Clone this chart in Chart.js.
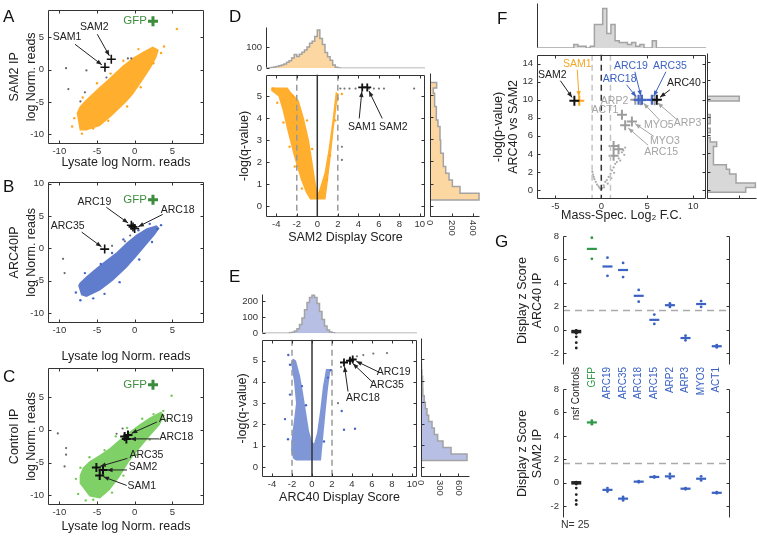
<!DOCTYPE html>
<html>
<head>
<meta charset="utf-8">
<title>Display scores</title>
<script src="https://cdn.jsdelivr.net/npm/chart.js@4.4.1/dist/chart.umd.min.js"></script>
<style>
  body { margin: 0; background: #fff; }
  #fig { position: relative; width: 757px; height: 536px; overflow: hidden; font-family: 'Liberation Sans', Arial, sans-serif; color: #111; }
  #fig canvas { position: absolute; }
  .panel { position: absolute; font-size: 17px; line-height: 1; }
  .foot { position: absolute; font-size: 10.5px; line-height: 1; color: #333; }
</style>
</head>
<body>
<div id="fig">
  <canvas id="cA"></canvas>
  <canvas id="cB"></canvas>
  <canvas id="cC"></canvas>
  <canvas id="dTop"></canvas>
  <canvas id="dSide"></canvas>
  <canvas id="cD"></canvas>
  <canvas id="eTop"></canvas>
  <canvas id="eSide"></canvas>
  <canvas id="cE"></canvas>
  <canvas id="fTop"></canvas>
  <canvas id="fSide"></canvas>
  <canvas id="cF"></canvas>
  <canvas id="gTop"></canvas>
  <canvas id="gBot"></canvas>
  <div class="panel" style="left:3px;top:8px">A</div>
  <div class="panel" style="left:3px;top:178px">B</div>
  <div class="panel" style="left:3px;top:368px">C</div>
  <div class="panel" style="left:229px;top:8px">D</div>
  <div class="panel" style="left:229px;top:268px">E</div>
  <div class="panel" style="left:497px;top:10px">F</div>
  <div class="panel" style="left:495px;top:233px">G</div>
  <div class="foot" style="left:561px;top:519px">N= 25</div>
</div>
<script>
// ---------- panel A: SAM2 IP vs lysate ----------
const aCloud = [[-7.7,-6.7],[-7.3,-9.4],[-6.4,-9.4],[-4.6,-8.7],[-2.9,-7.0],[-1.1,-5.0],[-0.2,-3.8],[1.1,-1.6],[2.2,0.4],[2.9,1.9],[3.2,3.1],[2.4,3.6],[1.1,2.8],[-0.2,1.9],[-1.6,0.6],[-2.7,-0.6],[-3.8,-1.8],[-4.6,-2.6],[-5.7,-3.8],[-6.6,-4.8],[-7.3,-5.7]];
const aSpeck = [[-8.3,-8.8],[-8.0,-7.5],[-7.0,-9.9],[-5.5,-9.1],[-6.9,-4.3],[-5.0,-2.1],[-3.2,-0.6],[-1.5,1.4],[0.5,3.2],[3.5,2.6],[2.5,1.0],[0.8,-2.7],[-1.0,-5.7],[-3.5,-7.9],[3.9,3.6],[5.6,6.3]];
const aGray = [[-9.1,0.25],[-8.8,-3.0],[-6.4,-0.1],[-7.2,-4.9],[-6.6,-3.5],[-3.75,-1.2],[-0.9,1.76],[-0.45,1.76]];
const aHits = [[-3.94,0.39],[-3.1,1.62]];          // SAM1, SAM2
const aGfp = [[2.43,7.5]];

// ---------- panel B: ARC40 IP vs lysate ----------
const bCloud = [[-7.5,-5.7],[-7.1,-7.2],[-6.4,-7.5],[-4.6,-6.5],[-2.9,-5.0],[-1.1,-3.0],[0.2,-1.3],[1.6,0.6],[2.7,2.1],[3.3,3.1],[2.9,3.6],[1.6,3.1],[0.2,2.1],[-1.1,0.9],[-2.4,-0.6],[-3.8,-1.8],[-5.1,-3.0],[-6.4,-4.3],[-7.3,-5.3]];
const bSpeck = [[-7.8,-6.8],[-7.2,-8.0],[-5.5,-7.7],[-6.6,-3.8],[-4.5,-2.4],[-3.0,-0.7],[-1.5,1.4],[0.5,2.8],[2.0,3.8],[3.5,3.6],[2.3,1.0],[0.6,-1.7],[-2.0,-5.2],[-4.0,-7.0],[3.0,3.0]];
const bGray = [[-9.5,-1.6],[-9.3,-3.8],[-1.3,1.1],[-3.0,0.4],[-0.6,2.0]];
const bHits = [[-0.44,3.57],[-0.22,3.33],[0,3.09],[-3.98,-0.1]];   // ARC19, -, ARC18, ARC35
const bGfp = [[2.43,7.5]];

// ---------- panel C: control IP vs lysate ----------
const cCloud = [[-7.3,-8.2],[-6.0,-10.2],[-4.6,-10.5],[-3.3,-9.2],[-2.0,-7.2],[-0.7,-4.8],[0.7,-2.8],[2.0,-1.0],[3.3,0.7],[4.0,2.2],[3.5,2.8],[2.0,1.9],[0.7,0.9],[-0.7,-0.3],[-2.0,-1.5],[-3.3,-2.8],[-4.6,-3.8],[-6.0,-4.8],[-6.9,-5.8],[-7.3,-7.0]];
const cSpeck = [[-7.8,-7.5],[-7.5,-9.8],[-6.5,-10.8],[-5.5,-10.7],[-3.0,-9.6],[-7.2,-5.8],[-6.0,-4.2],[-4.0,-3.1],[-2.5,-1.0],[-1.0,0.3],[1.0,1.7],[2.5,2.4],[3.8,2.9],[4.2,1.5],[2.0,-1.5],[0.2,-3.8],[-1.5,-7.0],[4.9,5.2]];
const cGray = [[-10.2,-0.55],[-9.1,-2.8],[-9.1,-3.8],[-9.3,-5.6],[-1.6,0.2],[-2.4,-0.6]];
const cHits = [[-1.33,-1.04],[-1.1,-1.39],[-0.89,-0.79],[-5.08,-5.75],[-4.2,-6.14],[-4.64,-6.98]];
const cGfp = [[2.43,6.88]];

// ---------- panel D: SAM2 volcano + marginals ----------
const dCloud = [[-0.7,0.3],[0.8,0.3],[1.0,1.0],[1.3,2.2],[1.6,3.5],[1.9,4.6],[2.1,5.1],[1.8,5.2],[1.5,4.0],[1.1,2.6],[0.7,1.5],[0.3,0.9],[0.1,0.6],[-0.1,0.9],[-0.4,1.8],[-0.8,3.0],[-1.3,4.0],[-1.8,4.8],[-2.6,5.2],[-2.9,5.4],[-4.5,5.4],[-4.5,5.25],[-3.8,5.0],[-3.4,4.4],[-2.9,3.4],[-2.3,2.3],[-1.6,1.2],[-1.1,0.6]];
const dSpeck = [[-4.3,5.35],[-3.9,4.7],[-3.3,3.8],[-2.7,2.7],[-2.2,1.8],[-1.5,0.8],[-0.5,2.6],[-1.0,3.9],[2.0,4.9],[1.75,3.9],[1.25,2.3],[0.95,1.2],[2.4,5.1],[-2.4,5.0]];
const dGray = [[2.25,5.35],[2.65,5.35],[3.14,5.35],[3.73,5.35],[5.03,5.35],[5.52,5.35],[6.01,5.35],[6.5,5.35],[9.44,5.35],[2.4,2.7],[2.4,2.1]];
const dHits = [[4.38,5.4],[4.87,5.4]];             // SAM1, SAM2
const dTopX = [-5.0,-4.75,-4.5,-4.25,-4.0,-3.75,-3.5,-3.25,-3.0,-2.75,-2.5,-2.25,-2.0,-1.75,-1.5,-1.25,-1.0,-0.75,-0.5,-0.25,0.0,0.25,0.5,0.75,1.0,1.25,1.5,1.75,2.0,2.25,10.5];
const dTopN = [0,2,4,6,9,12,15,20,28,36,48,65,56,66,76,86,100,118,128,150,180,140,112,75,55,38,16,5,2,0,0];
const dSideY = [0.27,0.27,0.57,0.87,1.17,1.47,1.77,2.07,2.37,2.67,2.97,3.27,3.57,3.87,4.17,4.47,4.77,5.07,5.3,5.55];
const dSideN = [0,456,279,208,177,146,124,124,99,99,93,93,74,59,59,43,43,31,62,0];

// ---------- panel E: ARC40 volcano + marginals ----------
const eCloud = [[-1.6,0.3],[0.9,0.3],[1.0,0.8],[1.2,1.8],[1.4,2.8],[1.6,3.7],[1.8,4.4],[1.9,4.6],[1.4,4.6],[1.1,3.8],[0.8,2.6],[0.5,1.6],[0.2,1.1],[0.0,1.2],[-0.3,1.7],[-0.6,2.6],[-0.9,3.5],[-1.2,4.3],[-1.6,5.0],[-1.9,5.1],[-2.1,4.9],[-1.8,4.0],[-1.6,3.0],[-1.8,2.2],[-2.0,1.5],[-2.1,0.8],[-1.9,0.4]];
const eSpeck = [[-2.37,5.26],[-2.7,2.25],[-2.2,4.8],[-2.4,1.3],[1.9,4.55],[2.97,2.63],[3.2,1.75],[4.3,1.8],[-1.0,3.8],[-0.6,2.9],[1.6,4.2],[-2.2,3.4],[1.2,1.2]];
const eGray = [[5.13,5.26],[6.13,5.33],[7.5,5.35],[2.9,4.7],[4.5,5.2],[2.6,3.0]];
const eHits = [[3.2,4.91],[3.8,4.99],[4.07,5.05]];  // ARC18, ARC35, ARC19
const eTopX = [-5.0,-2.5,-2.25,-2.0,-1.75,-1.5,-1.25,-1.0,-0.75,-0.5,-0.25,0.0,0.25,0.5,0.75,1.0,1.25,1.5,1.75,2.0,2.25,2.5,10.5];
const eTopN = [0,1,3,6,14,28,55,95,145,190,222,235,222,185,135,85,45,20,8,3,1,0,0];
const eSideY = [0.3,0.3,0.6,0.9,1.2,1.5,1.8,2.1,2.4,2.7,3.0,3.3,3.6,3.9,4.2,4.5,4.8,5.1,5.4];
const eSideN = [0,738,482,353,267,214,177,123,96,70,53,30,27,25,15,8,5,3,0];

// ---------- panel F: mass-spec volcano ----------
const fDots = [[-0.1,0.15],[0.0,0.05],[0.1,0.2],[-0.3,0.4],[-0.46,0.6],[-0.6,0.9],[-0.75,1.2],[-0.83,1.45],[-0.97,2.0],[-0.9,1.7],[0.25,0.5],[0.43,0.9],[0.6,1.1],[0.8,1.45],[1.0,1.8],[1.16,2.17],[1.35,2.5],[1.52,2.9],[1.7,3.1],[2.06,3.26],[1.9,3.5],[2.25,4.17],[2.4,4.4],[2.6,4.7],[2.5,3.9],[0.3,0.3],[-0.2,0.25],[0.7,0.7],[1.1,1.3],[1.4,1.9]];
const fGrayHits = [[3.7,10],[4.3,9.95],[5.8,9.95],[2.25,8.33],[3.33,7.6],[2.6,7.17],[1.34,4.89],[1.88,4.53],[1.34,3.8]];
const fBlueHits = [[4.06,10],[4.42,10],[5.51,10]];  // ARC18, ARC19, ARC35
const fSam2 = [[-2.93,9.9]];
const fSam1 = [[-2.4,9.9]];
const fArc40 = [[6.05,10]];
const fTopX = [-7,-3.0,-2.55,-2.1,-1.65,-1.2,-0.75,-0.3,0.15,0.6,1.05,1.5,1.95,2.4,2.85,3.3,3.75,4.2,4.65,5.55,6.0,11.4];
const fTopN = [0,2,1,1,0,1,13,13,22,8,13,4,3,3,2,3,1,2,0,4,0,0];
const fSideY = [-0.25,-0.25,0.25,0.75,1.25,1.75,2.25,2.75,3.25,3.75,4.25,4.75,5.25,5.75,6.25,6.75,7.25,7.75,8.25,9.75,10.25];
const fSideN = [0,12,15,9,9,7,6,2,2,2,2,3,1,0,1,0,1,1,0,10,0];

// ---------- panel G: display z scores ----------
const gCats = ['nsf Controls','GFP','ARC19','ARC35','ARC18','ARC15','ARP2','ARP3','MYO3','ACT1'];
const gTopMean = [-0.15,6.9,5.4,5.1,2.9,0.85,2.1,-0.7,2.2,-1.4];
const gTopReps = [[-0.05,-0.1,-0.2,-0.25,-0.3,-0.6,-1.1,-1.55],[7.85,6.05],[6.15,4.6],[5.7,4.5],[3.4,2.4],[1.3,0.5],[2.25,1.95],[-0.5,-0.9],[2.45,1.95],[-1.3,-1.5]];
const gBotMean = [0,5.15,-0.6,-1.35,0.1,0.5,0.55,-0.5,0.35,-0.85];
const gBotReps = [[0.05,-0.05,-0.1,-0.45,-1.0,-1.5,-1.85],[5.3,5.0],[-0.45,-0.75],[-1.2,-1.5],[0.15,0.05],[0.55,0.45],[0.75,0.4],[-0.45,-0.55],[0.55,0.2],[-0.8,-0.9]];
const gCut = 1.65;

// colours
const ORANGE = '#ffa51c', ORANGE_FILL = 'rgba(255,168,30,0.93)';
const BLUE = '#4466c4', BLUE_FILL = 'rgba(68,102,196,0.85)', BLUE_SOFT = 'rgba(68,102,196,0.68)';
const GREEN = '#74cb58', GREEN_FILL = 'rgba(118,204,92,0.93)';
const GFP = '#3b8c3b', GFP_TEXT = '#3f8f3f';
const BLUE_TXT = '#3d63c2', GRAY_TXT = '#a4a4a4', ORANGE_TXT = '#f5a623';
const gColors = ['#222', '#2f9a45', '#3a62c2', '#3a62c2', '#3a62c2', '#3a62c2', '#3a62c2', '#3a62c2', '#3a62c2', '#3a62c2'];

// annotations (text/arrow offsets in px from the marked point)
const aNotes = [
  {t:'SAM1', at:aHits[0], tx:-38, ty:-30, ax:-30, ay:-23},
  {t:'SAM2', at:aHits[1], tx:-17, ty:-32, ax:-14, ay:-25},
  {t:'GFP', at:aGfp[0], tx:-6, ty:0, align:'right', c:GFP_TEXT, size:11.5}
];
const bNotes = [
  {t:'ARC19', at:bHits[0], tx:-37, ty:-23, ax:-25, ay:-18},
  {t:'ARC18', at:bHits[2], tx:43, ty:-18, ax:28, ay:-14},
  {t:'ARC35', at:bHits[3], tx:-37, ty:-23, ax:-23, ay:-17},
  {t:'GFP', at:bGfp[0], tx:-6, ty:0, align:'right', c:GFP_TEXT, size:11.5}
];
const cNotes = [
  {t:'ARC19', at:cHits[2], tx:48, ty:-16, ax:29, ay:-13},
  {t:'ARC18', at:cHits[1], tx:50, ty:-2, ax:33, ay:0},
  {t:'ARC35', at:cHits[3], tx:50, ty:-12, ax:31, ay:-9},
  {t:'SAM2', at:cHits[4], tx:40, ty:-3, ax:24, ay:0},
  {t:'SAM1', at:cHits[5], tx:42, ty:11, ax:27, ay:10},
  {t:'GFP', at:cGfp[0], tx:-6, ty:0, align:'right', c:GFP_TEXT, size:11.5}
];
const dNotes = [
  {t:'SAM1', at:dHits[0], tx:0, ty:40, ax:-3, ay:31},
  {t:'SAM2', at:dHits[1], tx:26, ty:40, ax:15, ay:31}
];
const eNotes = [
  {t:'ARC19', at:eHits[2], tx:41, ty:13, ax:27, ay:13},
  {t:'ARC35', at:eHits[1], tx:37, ty:24, ax:22, ay:21},
  {t:'ARC18', at:eHits[0], tx:19, ty:36, ax:4, ay:29}
];
const fNotes = [
  {t:'SAM2', at:fSam2[0], tx:-22, ty:-26, ax:-14, ay:-20},
  {t:'SAM1', at:fSam1[0], tx:-2, ty:-37, ax:-2, ay:-31, c:ORANGE_TXT},
  {t:'ARC19', at:fBlueHits[1], tx:-11, ty:-34, ax:-7, ay:-28, c:BLUE_TXT},
  {t:'ARC35', at:fBlueHits[2], tx:18, ty:-34, ax:14, ay:-28, c:BLUE_TXT},
  {t:'ARC18', at:fBlueHits[0], tx:-19, ty:-21, ax:-12, ay:-15, c:BLUE_TXT},
  {t:'ARC40', at:fArc40[0], tx:27, ty:-17, ax:13, ay:-10},
  {t:'ARP2', at:fGrayHits[0], tx:-7, ty:1, align:'right', c:GRAY_TXT},
  {t:'ACT1', at:fGrayHits[3], tx:-17, ty:-5, c:GRAY_TXT},
  {t:'MYO5', at:fGrayHits[1], tx:18, ty:25, ax:19, ay:20, c:GRAY_TXT},
  {t:'ARP3', at:fGrayHits[2], tx:33, ty:23, ax:22, ay:19, c:GRAY_TXT},
  {t:'MYO3', at:fGrayHits[4], tx:33, ty:20, ax:22, ay:15, c:GRAY_TXT},
  {t:'ARC15', at:fGrayHits[5], tx:36, ty:27, ax:23, ay:20, c:GRAY_TXT}
];

const FONT = "'Liberation Sans', Arial, sans-serif";
Chart.defaults.animation = false;
Chart.defaults.font.family = FONT;
Chart.defaults.font.size = 9.5;
Chart.defaults.color = '#333';
Chart.defaults.events = [];
Chart.defaults.plugins.legend.display = false;
Chart.defaults.plugins.tooltip.enabled = false;

// box frame with inward ticks (matlab look)
const framePlugin = {
  id: 'frame',
  afterDraw(chart, args, o) {
    if (!o.sides) return;
    const {ctx, chartArea: a} = chart;
    const xs = chart.scales.x, ys = chart.scales.y, s = o.sides;
    const tl = o.tick === undefined ? 3 : o.tick;
    const L = Math.round(a.left) + 0.5, R = Math.round(a.right) - 0.5;
    const T = Math.round(a.top) + 0.5, B = Math.round(a.bottom) - 0.5;
    ctx.save();
    ctx.strokeStyle = o.color || '#333';
    ctx.lineWidth = 1;
    ctx.beginPath();
    if (s.includes('l')) { ctx.moveTo(L, T); ctx.lineTo(L, B); }
    if (s.includes('r')) { ctx.moveTo(R, T); ctx.lineTo(R, B); }
    if (s.includes('t')) { ctx.moveTo(L, T); ctx.lineTo(R, T); }
    if (s.includes('b')) { ctx.moveTo(L, B); ctx.lineTo(R, B); }
    if (tl) {
      xs.ticks.forEach(t => {
        const p = Math.round(xs.getPixelForValue(t.value)) + 0.5;
        if (s.includes('b')) { ctx.moveTo(p, B); ctx.lineTo(p, B - tl); }
        if (s.includes('t')) { ctx.moveTo(p, T); ctx.lineTo(p, T + tl); }
      });
      ys.ticks.forEach(t => {
        const p = Math.round(ys.getPixelForValue(t.value)) + 0.5;
        if (s.includes('l')) { ctx.moveTo(L, p); ctx.lineTo(L + tl, p); }
        if (s.includes('r')) { ctx.moveTo(R, p); ctx.lineTo(R - tl, p); }
      });
    }
    ctx.stroke();
    ctx.restore();
  }
};

// vertical / horizontal reference lines
const refPlugin = {
  id: 'refs',
  afterDatasetsDraw(chart, args, o) {
    const {ctx, chartArea: a} = chart;
    ctx.save();
    ctx.lineWidth = 1.5;
    (o.x || []).forEach(([v, c, dash]) => {
      const p = chart.scales.x.getPixelForValue(v);
      ctx.strokeStyle = c;
      ctx.setLineDash(dash ? [6, 4] : []);
      ctx.beginPath(); ctx.moveTo(p, a.top); ctx.lineTo(p, a.bottom); ctx.stroke();
    });
    (o.y || []).forEach(([v, c, dash]) => {
      const p = chart.scales.y.getPixelForValue(v);
      ctx.strokeStyle = c;
      ctx.setLineDash(dash ? [7, 5] : []);
      ctx.beginPath(); ctx.moveTo(a.left, p); ctx.lineTo(a.right, p); ctx.stroke();
    });
    ctx.restore();
  }
};

// text labels with arrows
const notePlugin = {
  id: 'notes',
  afterDraw(chart, args, o) {
    if (!o.list) return;
    const {ctx} = chart, xs = chart.scales.x, ys = chart.scales.y;
    ctx.save();
    ctx.textBaseline = 'middle';
    o.list.forEach(n => {
      const px = xs.getPixelForValue(n.at[0]), py = ys.getPixelForValue(n.at[1]);
      const c = n.c || '#222';
      ctx.font = (n.size || 10.5) + 'px ' + FONT;
      ctx.fillStyle = c;
      ctx.strokeStyle = c;
      ctx.textAlign = n.align || 'center';
      ctx.fillText(n.t, px + n.tx, py + n.ty);
      if (n.ax === undefined) return;
      const sx = px + n.ax, sy = py + n.ay;
      const ang = Math.atan2(py - sy, px - sx);
      const ex = px - Math.cos(ang) * 4, ey = py - Math.sin(ang) * 4;
      ctx.lineWidth = 1;
      ctx.beginPath(); ctx.moveTo(sx, sy); ctx.lineTo(ex, ey); ctx.stroke();
      ctx.beginPath();
      ctx.moveTo(ex, ey);
      ctx.lineTo(ex - 6 * Math.cos(ang - 0.38), ey - 6 * Math.sin(ang - 0.38));
      ctx.lineTo(ex - 6 * Math.cos(ang + 0.38), ey - 6 * Math.sin(ang + 0.38));
      ctx.closePath();
      ctx.fill();
    });
    ctx.restore();
  }
};

// clockwise tick labels under the side histograms
const sideTickPlugin = {
  id: 'sideTicks',
  afterDraw(chart, args, o) {
    if (!o.show) return;
    const {ctx, chartArea: a} = chart, xs = chart.scales.x;
    ctx.save();
    ctx.font = '9.5px ' + FONT;
    ctx.fillStyle = '#333';
    ctx.textAlign = 'left';
    ctx.textBaseline = 'middle';
    xs.ticks.forEach(t => {
      ctx.save();
      ctx.translate(xs.getPixelForValue(t.value), a.bottom + 3);
      ctx.rotate(Math.PI / 2);
      ctx.fillText(String(t.value), 0, 0);
      ctx.restore();
    });
    ctx.restore();
  }
};

Chart.register(framePlugin, refPlugin, notePlugin, sideTickPlugin);

// dataset helpers
const xy = arr => arr.map(([x, y]) => ({x, y}));
const dots = (arr, color, r) => ({type: 'scatter', data: xy(arr), pointRadius: r || 1.2, pointBackgroundColor: color, pointBorderWidth: 0});
const marks = (arr, color, r, w) => ({type: 'scatter', data: xy(arr), pointStyle: 'cross', pointRadius: r || 4.5, pointBorderColor: color, pointBackgroundColor: color, pointBorderWidth: w || 1.6});
const blob = (arr, color) => ({type: 'line', data: xy(arr), fill: 'shape', backgroundColor: color, borderWidth: 0, pointRadius: 0, tension: 0});
const topStairs = (xs, ns, color) => ({type: 'line', data: xs.map((x, i) => ({x, y: ns[i]})), fill: 'shape', stepped: 'before',
  backgroundColor: color, borderColor: '#a3a3a3', borderWidth: 1.5, pointRadius: 0});
const sideStairs = (ys, ns, color) => ({type: 'line', data: ys.map((y, i) => ({x: ns[i], y})), fill: 'shape', stepped: 'after',
  backgroundColor: color, borderColor: '#a3a3a3', borderWidth: 1.5, pointRadius: 0});

// linear axis; ticks are the multiples of `step` inside [min, max]
function lin(min, max, step, o) {
  o = o || {};
  return {
    type: 'linear', min, max,
    grid: {display: false, drawTicks: false},
    border: {display: false},
    ticks: Object.assign({padding: 4}, o.ticks || {}),
    afterBuildTicks: s => {
      const t = [];
      for (let k = Math.ceil(min / step - 1e-9); k * step <= max + 1e-9; k++) t.push({value: +(k * step).toFixed(6)});
      s.ticks = t;
    },
    title: o.title ? {display: true, text: o.title, color: '#222',
      font: {size: 12.5, lineHeight: o.lh || '16px'}, padding: {top: o.tp || 0, bottom: 0}} : {display: false}
  };
}

function mk(id, box, area, datasets, scales, plugins) {
  const cv = document.getElementById(id);
  cv.width = box[2];
  cv.height = box[3];
  cv.style.left = box[0] + 'px';
  cv.style.top = box[1] + 'px';
  const yw = area[0] - box[0], xh = box[1] + box[3] - area[3];
  scales.x.afterFit = s => { s.height = xh; };
  scales.y.afterFit = s => { s.width = yw; };
  return new Chart(cv, {
    type: 'scatter',
    data: {datasets},
    options: {
      responsive: false,
      layout: {padding: {left: 0, bottom: 0, top: area[1] - box[1], right: box[0] + box[2] - area[2]}},
      scales,
      plugins
    }
  });
}

const noTicks = {display: false};
const scatterY = (max, title) => lin(-11.5, max, 5, {title, lh: '17px', tp: 6});
const lysateX = () => lin(-11.5, 9.2, 5, {title: 'Lysate log Norm. reads', ticks: {padding: 2}});

// A
mk('cA', [0, 0, 215, 171], [48, 3, 204, 144],
  [marks(aHits, '#111'), marks(aGfp, GFP, 5, 3), dots(aGray, '#666', 1.1), dots(aSpeck, ORANGE), blob(aCloud, ORANGE_FILL)],
  {x: lysateX(), y: scatterY(9.3, ['SAM2 IP', 'log Norm. reads'])},
  {frame: {sides: 'lrtb'}, notes: {list: aNotes}});

// B
mk('cB', [0, 172, 215, 193], [48, 177, 204, 323],
  [marks(bHits, '#111'), marks(bGfp, GFP, 5, 3), dots(bGray, '#666', 1.1), dots(bSpeck, BLUE), blob(bCloud, BLUE_FILL)],
  {x: lysateX(), y: scatterY(10.3, ['ARC40IP', 'log Norm. reads'])},
  {frame: {sides: 'lrtb'}, notes: {list: bNotes}});

// C
mk('cC', [0, 358, 215, 177], [48, 364, 204, 505],
  [marks(cHits, '#111', 4.5, 2), marks(cGfp, GFP, 5, 3), dots(cGray, '#666', 1.1), dots(cSpeck, GREEN), blob(cCloud, GREEN_FILL)],
  {x: lysateX(), y: scatterY(9.5, ['Control IP', 'log Norm. reads'])},
  {frame: {sides: 'lrtb'}, notes: {list: cNotes}});

// D
mk('dTop', [226, 17, 206, 61], [266, 25, 425, 70],
  [topStairs(dTopX, dTopN, '#fdd7a2')],
  {x: lin(-5, 10.5, 2, {ticks: noTicks}), y: lin(0, 196, 100)},
  {frame: {sides: 'l'}});
mk('dSide', [426, 65, 58, 185], [430, 73, 480, 217],
  [sideStairs(dSideY, dSideN, '#fdd7a2')],
  {x: lin(0, 465, 200, {ticks: noTicks}), y: lin(-0.5, 5.98, 1, {ticks: noTicks})},
  {frame: {sides: 'lb'}, sideTicks: {show: true}});
mk('cD', [232, 65, 200, 181], [266, 73, 425, 217],
  [marks(dHits, '#111', 4, 1.8), dots(dGray, '#777', 1.1), dots(dSpeck, ORANGE), blob(dCloud, ORANGE_FILL)],
  {x: lin(-5, 10.5, 2, {title: 'SAM2 Display Score', ticks: {padding: 2}}),
   y: lin(-0.5, 5.98, 1, {title: '-log(q-value)', lh: '15px', tp: 5.5})},
  {frame: {sides: 'lrtb'}, refs: {x: [[-2, '#9a9a9a', true], [2, '#9a9a9a', true], [0, '#333', false]]}, notes: {list: dNotes}});

// E
mk('eTop', [222, 284, 202, 59], [262, 292, 417, 335],
  [topStairs(eTopX, eTopN, '#b7c0e4')],
  {x: lin(-5, 10.5, 2, {ticks: noTicks}), y: lin(0, 245, 100)},
  {frame: {sides: 'l'}});
mk('eSide', [417, 330, 57, 180], [421, 338, 470, 477],
  [sideStairs(eSideY, eSideN, '#b7c0e4')],
  {x: lin(0, 786, 300, {ticks: noTicks}), y: lin(-0.47, 5.98, 1, {ticks: noTicks})},
  {frame: {sides: 'lb'}, sideTicks: {show: true}});
mk('cE', [228, 330, 196, 176], [262, 338, 417, 477],
  [marks(eHits, '#111', 4, 1.8), dots(eGray, '#777', 1.1), dots(eSpeck, BLUE), blob(eCloud, BLUE_SOFT)],
  {x: lin(-5, 10.5, 2, {title: 'ARC40 Display Score', ticks: {padding: 2}}),
   y: lin(-0.47, 5.98, 1, {title: '-log(q-value)', lh: '15px', tp: 7.5})},
  {frame: {sides: 'lrtb'}, refs: {x: [[-2, '#9a9a9a', true], [2, '#9a9a9a', true], [0, '#333', false]]}, notes: {list: eNotes}});

// F
mk('fTop', [497, 0, 217, 56], [537, 3, 706, 48],
  [topStairs(fTopX, fTopN, '#d8d8d8')],
  {x: lin(-7, 11.4, 5, {ticks: noTicks}), y: lin(0, 25, 100, {ticks: noTicks})},
  {frame: {sides: 'l', tick: 0}});
mk('fSide', [703, 45, 54, 165], [707, 53, 757, 199],
  [sideStairs(fSideY, fSideN, '#d8d8d8')],
  {x: lin(0, 15.5, 10, {ticks: noTicks}), y: lin(-1, 15, 2, {ticks: noTicks})},
  {frame: {sides: 'lb'}});
mk('cF', [488, 45, 226, 179], [537, 53, 706, 199],
  [marks(fSam2, '#111', 5, 2), marks(fArc40, '#111', 5, 2), marks(fSam1, ORANGE, 5, 2), marks(fBlueHits, BLUE, 5, 2.2),
   marks(fGrayHits, '#9c9c9c', 5, 2), dots(fDots, '#aaa', 1.1)],
  {x: lin(-7, 11.4, 5, {title: 'Mass-Spec. Log\u2082 F.C.', ticks: {padding: 2}}),
   y: lin(-1, 15, 2, {title: ['-log(p-value)', 'ARC40 vs SAM2'], lh: '15px', tp: 3})},
  {frame: {sides: 'lrtb'}, refs: {x: [[-1, '#c4c4c4', true], [1, '#c4c4c4', true], [0, '#333', true]]}, notes: {list: fNotes}});

// G
function gSets(means, reps) {
  const repPts = [], repCol = [];
  reps.forEach((r, i) => r.forEach(v => { repPts.push({x: i, y: v}); repCol.push(gColors[i]); }));
  return [
    {type: 'scatter', data: means.map((v, i) => ({x: i, y: v})), pointStyle: 'line', pointRadius: 5,
      pointBorderColor: gColors, pointBackgroundColor: gColors, pointBorderWidth: means.map((v, i) => i === 0 ? 3.5 : 2.2)},
    {type: 'scatter', data: repPts, pointRadius: 1.4, pointBackgroundColor: repCol, pointBorderWidth: 0}
  ];
}
mk('gTop', [510, 226, 230, 215], [563, 236, 730, 365],
  gSets(gTopMean, gTopReps),
  {x: lin(-0.85, 9.85, 1, {ticks: {padding: 2, autoSkip: false, minRotation: 90, maxRotation: 90,
      font: {size: 10}, color: c => gColors[c.index], callback: v => gCats[v]}}),
   y: lin(-3, 8, 2, {title: ['Display z Score', 'ARC40 IP'], lh: '15px', tp: 5.5})},
  {frame: {sides: 'lr'}, refs: {y: [[gCut, '#aaa', true]]}});
mk('gBot', [510, 379, 230, 150], [563, 389, 730, 518],
  gSets(gBotMean, gBotReps),
  {x: lin(-0.85, 9.85, 1, {ticks: noTicks}),
   y: lin(-3, 8, 2, {title: ['Display z Score', 'SAM2 IP'], lh: '15px', tp: 5.5})},
  {frame: {sides: 'lr'}, refs: {y: [[gCut, '#aaa', true]]}});
</script>
</body>
</html>
